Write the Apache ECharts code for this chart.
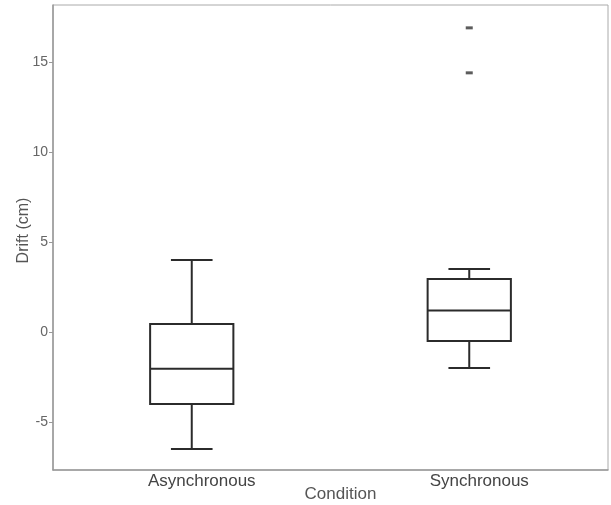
<!DOCTYPE html>
<html>
<head>
<meta charset="utf-8">
<script src="https://cdn.jsdelivr.net/npm/echarts@6/dist/echarts.min.js"></script>
<style>html,body{margin:0;padding:0;background:#fff;}#c{width:611px;height:505px;}</style>
</head>
<body>
<div id="c"></div>
<script>
var categories = ['Asynchronous', 'Synchronous'];
var whiskerLow = [-6.5, -2.0];
var q1 = [-4.0, -0.5];
var median = [-2.05, 1.2];
var q3 = [0.45, 2.95];
var whiskerHigh = [4.0, 3.5];
var outliers = [['Synchronous', 16.9], ['Synchronous', 14.4]];
var yTicks = [-5, 0, 5, 10, 15];

var boxData = categories.map(function (c, i) {
  return [i, whiskerLow[i], q1[i], median[i], q3[i], whiskerHigh[i]];
});

var chart = echarts.init(document.getElementById('c'));
var lineStyle = { stroke: '#2b2b2b', lineWidth: 2, fill: null };
var FONT = 'Liberation Sans, Arial, sans-serif';

chart.setOption({
  animation: false,
  backgroundColor: '#fff',
  grid: { left: 53, right: 3, top: 5, bottom: 35, outerBoundsMode: 'none', containLabel: false, show: true, borderColor: '#aaa', borderWidth: 1 },
  xAxis: {
    type: 'category',
    data: categories,
    boundaryGap: true,
    axisLine: { show: true, onZero: false, lineStyle: { color: '#999', width: 1.5 } },
    axisTick: { show: false },
    axisLabel: { color: '#444', fontSize: 17, fontFamily: FONT, margin: 3, padding: [0, 0, 0, 20] },
    name: 'Condition',
    nameLocation: 'middle',
    nameMoveOverlap: false,
    nameGap: 16,
    nameTextStyle: { color: '#555', fontSize: 17, fontFamily: FONT, padding: [0, 0, 0, 20] }
  },
  yAxis: {
    type: 'value',
    min: -7.67,
    max: 18.17,
    splitLine: { show: false },
    axisLine: { show: true, onZero: false, lineStyle: { color: '#999', width: 1.5 } },
    axisTick: { show: true, length: 4, customValues: yTicks, lineStyle: { color: '#999' } },
    axisLabel: { color: '#666', fontSize: 14, fontFamily: FONT, margin: 5, customValues: yTicks },
    name: 'Drift (cm)',
    nameLocation: 'middle',
    nameMoveOverlap: false,
    nameGap: 21,
    nameRotate: 90,
    nameTextStyle: { color: '#555', fontSize: 16, fontFamily: FONT, padding: [0, 0, 0, 14] }
  },
  series: [
    {
      type: 'custom',
      data: boxData,
      renderItem: function (params, api) {
        var x = api.value(0);
        var band = api.size([1, 0])[0];
        var half = band * 0.15;
        var cap = band * 0.075;
        var pLow = api.coord([x, api.value(1)]);
        var pQ1 = api.coord([x, api.value(2)]);
        var pMed = api.coord([x, api.value(3)]);
        var pQ3 = api.coord([x, api.value(4)]);
        var pHigh = api.coord([x, api.value(5)]);
        var cx = pMed[0];
        return {
          type: 'group',
          children: [
            { type: 'line', shape: { x1: cx, y1: pHigh[1], x2: cx, y2: pQ3[1] }, style: lineStyle },
            { type: 'line', shape: { x1: cx, y1: pQ1[1], x2: cx, y2: pLow[1] }, style: lineStyle },
            { type: 'line', shape: { x1: cx - cap, y1: pHigh[1], x2: cx + cap, y2: pHigh[1] }, style: lineStyle },
            { type: 'line', shape: { x1: cx - cap, y1: pLow[1], x2: cx + cap, y2: pLow[1] }, style: lineStyle },
            { type: 'rect', shape: { x: cx - half, y: pQ3[1], width: half * 2, height: pQ1[1] - pQ3[1] }, style: { stroke: '#2b2b2b', lineWidth: 2, fill: '#fff' } },
            { type: 'line', shape: { x1: cx - half, y1: pMed[1], x2: cx + half, y2: pMed[1] }, style: lineStyle }
          ]
        };
      }
    },
    {
      type: 'scatter',
      data: outliers,
      symbol: 'rect',
      symbolSize: [7, 3],
      itemStyle: { color: '#333' }
    }
  ]
});
</script>
</body>
</html>
